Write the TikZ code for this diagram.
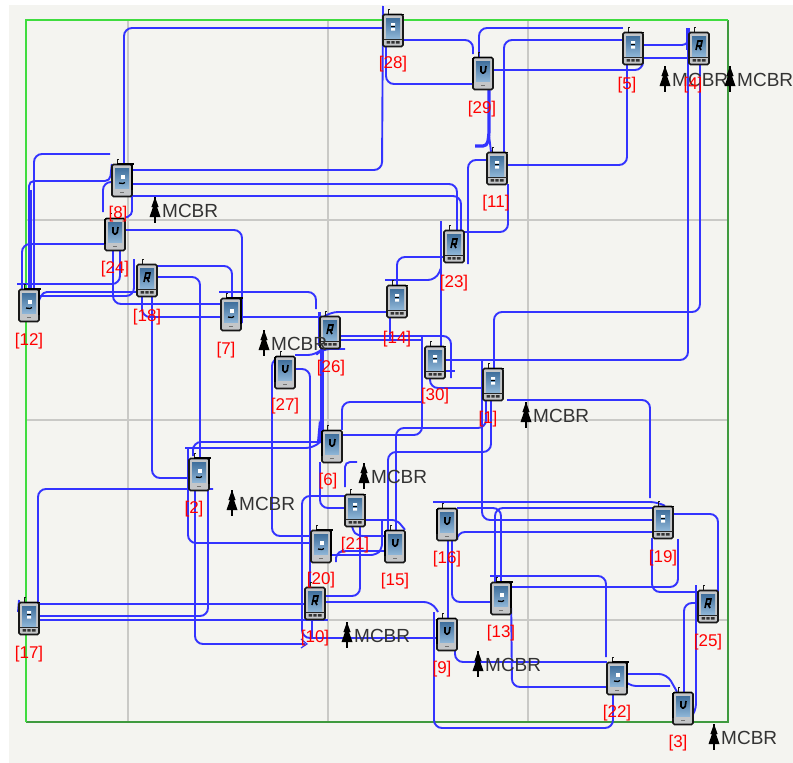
\documentclass[tikz,border=0pt]{standalone}
\usepackage{fontspec}
\setmainfont{Liberation Sans}
\definecolor{linkblue}{HTML}{3333FF}
\definecolor{canvasbg}{HTML}{F4F4F0}
\definecolor{gridgray}{HTML}{C9C9C6}
\definecolor{frameA}{HTML}{3FDC3F}
\definecolor{frameB}{HTML}{3F9A3F}
\definecolor{scrA}{HTML}{3F6F9C}
\definecolor{scrB}{HTML}{8DB4D6}
\definecolor{bodygray}{HTML}{C4C6C8}
\tikzset{
  x=1pt,y=-1pt,
  link/.style={draw=linkblue,line width=1.9pt,rounded corners=8pt},
  heavy/.style={link,line width=3.2pt},
  phonebox/.style={inner sep=0pt,minimum width=20pt,minimum height=32pt},
  idlabel/.style={text=red,font=\fontsize{17}{18}\selectfont,inner sep=0pt,yshift=-2pt},
  mcbrtext/.style={text=black!80,font=\fontsize{19}{20}\selectfont,inner sep=0pt,anchor=west},
  gridline/.style={draw=gridgray,line width=1.5pt},
  pics/phonebase/.style={code={
    \draw[black!90,line width=1pt] (-5,-16) -- (-5,-21) -- (-3,-21);
    \draw[black!90,fill=bodygray,line width=1.7pt,rounded corners=1.5pt] (-10,-15.5) rectangle (10,16.5);
    \shade[top color=scrA,bottom color=scrB] (-7,-12) rectangle (7,8);
  }},
  pics/phoneplain/.style={code={
    \pic {phonebase};
    \draw[black!55,line width=0.8pt] (-2,12.5) -- (2,12.5);
  }},
  pics/phonekeys/.style={code={
    \pic {phonebase};
    \fill[black!85] (-9.5,8.5) rectangle (9.5,9.8);
    \fill[black!80] (-6.5,11) rectangle (-2.8,13.5) (-1.7,11) rectangle (1.7,13.5) (2.8,11) rectangle (6.5,13.5);
  }},
  pics/glyphA/.style={code={
    \draw[black,line width=2.2pt] (-5,-16) -- (12,-16);
    \draw[black,line width=2pt] (10,-16) -- (10,10);
    \fill[white] (-1,-5) rectangle (3,-1);
    \draw[black,line width=1.3pt] (-3,3) -- (1,3.5) -- (3,2.5);
  }},
  pics/glyphU/.style={code={
    \draw[black,line width=2.4pt] (-10,-15.5) -- (-10,10);
    \draw[black,line width=1.7pt] (-10,-15.5) -- (9,-15.5);
    \draw[black,line width=1.7pt,rounded corners=1.5pt] (-2,-7) -- (-2,0) -- (2,0) -- (3,-7);
  }},
  pics/glyphR/.style={code={
    \draw[black,line width=1.6pt] (-3,2) -- (-1,-7) -- (3,-7) -- (2,-2) -- (-2,-2) (0,-2) -- (2,2);
  }},
  pics/glyphD/.style={code={
    \fill[white] (-2,-7) rectangle (2,-4.5) (-2,-2) rectangle (2,0.5);
    \fill[black] (-2,-4) rectangle (2,-3);
    \draw[black,line width=1.8pt] (-5,-15.5) -- (11,-15.5);
  }},
  pics/firtree/.style={code={
    \draw[black,line width=1.4pt] (0,-13) -- (0,13);
    \fill[black] (0,-13) -- (3.6,-3) -- (2,-3) -- (5.5,7) -- (-5.5,7) -- (-2,-3) -- (-3.6,-3) -- cycle;
  }},
}
\newcommand{\phonenode}[3]{\node[phonebox] (p#1) at (#2,#3) {};}
\newcommand{\iconA}[1]{\pic at (p#1) {phoneplain}; \pic at (p#1) {glyphA};}
\newcommand{\iconU}[1]{\pic at (p#1) {phoneplain}; \pic at (p#1) {glyphU};}
\newcommand{\iconR}[1]{\pic at (p#1) {phonekeys}; \pic at (p#1) {glyphR};}
\newcommand{\iconD}[1]{\pic at (p#1) {phonekeys}; \pic at (p#1) {glyphD};}
\newcommand{\mcbrsite}[3]{\pic at (#2,#3) {firtree}; \node[mcbrtext] (#1) at (#2+7,#3+1) {MCBR};}
\begin{document}
\begin{tikzpicture}
\useasboundingbox (0,0) rectangle (793,763);
\fill[white] (0,0) rectangle (793,763);
\fill[canvasbg] (9,5) rectangle (793,763);
% grid
\foreach \g in {128,328,528} \draw[gridline] (\g,20) -- (\g,722);
\foreach \g in {220,420,620} \draw[gridline] (26,\g) -- (728,\g);
% frame
\draw[frameB,line width=1.8pt] (728,20) -- (728,722) -- (26,722);
\draw[frameA,line width=1.8pt] (26,722) -- (26,20) -- (728,20);
% phone anchors
\phonenode{28}{393}{30}\phonenode{29}{483}{73}\phonenode{5}{633}{48}\phonenode{4}{699}{48}
\phonenode{11}{497}{168}\phonenode{23}{454}{246}\phonenode{14}{397}{301}\phonenode{30}{435}{362}
\phonenode{1}{493}{384}\phonenode{26}{330}{332}\phonenode{27}{285}{372}\phonenode{6}{332}{446}
\phonenode{8}{122}{180}\phonenode{24}{115}{234}\phonenode{18}{147}{280}\phonenode{12}{29}{305}
\phonenode{7}{231}{314}\phonenode{2}{199}{474}\phonenode{17}{29}{618}\phonenode{21}{355}{510}
\phonenode{20}{321}{546}\phonenode{15}{395}{546}\phonenode{10}{315}{603}\phonenode{9}{447}{634}
\phonenode{16}{447}{524}\phonenode{19}{663}{522}\phonenode{13}{501}{598}\phonenode{25}{708}{606}
\phonenode{22}{617}{678}\phonenode{3}{683}{708}
% free ends
\coordinate (f1) at (383,6);
\coordinate (f2) at (475,146);
\coordinate (f3) at (468,264);
\coordinate (f4) at (385,280);
\coordinate (f5) at (17,284);
\coordinate (f6) at (110,154);
\coordinate (f7) at (103,212);
\coordinate (f8) at (219,292);
\coordinate (f9) at (345,349);
\coordinate (f10) at (455,371);
\coordinate (f11) at (433,502);
\coordinate (f12) at (185,448);
\coordinate (f13) at (357,462);
\coordinate (f14) at (345,487);
\coordinate (f15) at (213,489);
\coordinate (f16) at (328,620);
\coordinate (f17) at (490,576);
\coordinate (f18) at (670,686);
\coordinate (f19) at (434,612);
\coordinate (f20) at (696,585);
\coordinate (f21) at (441,221);
\coordinate (f22) at (188,448);
% connectors: top right
\draw[link] (p28.west|-0,28) -- (124,28) -- (p8.north-|124,0);
\draw[link] (p8.east|-0,170) -- (382,170) -- (f1);
\draw[link] (386,46) -- (386,84) -- (p29.west|-0,84);
\draw[link] (p28.east|-0,40) -- (473,40) -- (473,54);
\draw[link] (p29.north-|479,0) -- (479,28) -- (p5.west|-0,28);
\draw[link] (p29.east|-0,70) -- (643,70) -- (p5.south-|643,0);
\draw[link] (p5.west|-0,40) -- (504,40) -- (p11.north-|504,0);
\draw[link,rounded corners=3pt] (p5.east|-0,45) -- (685,45) -- (p4.west|-0,41);
\draw[link] (p5.east|-0,58) -- (p4.west|-0,58);
\draw[link] (p30.east|-0,360) -- (688,360) -- (688,28);
\draw[heavy] (688,28) -- (688,50);
\draw[link] (p4.south-|700,0) -- (700,312) -- (494,312) -- (p1.north-|494,0);
\draw[link] (p5.south-|627,0) -- (627,165) -- (p11.east|-0,165);
\draw[link] (p11.west|-0,160) -- (468,160) -- (f3);
\draw[link] (p11.south-|508,0) -- (508,232) -- (p23.east|-0,232);
\draw[heavy,rounded corners=4pt] (p29.south-|489,0) -- (489,135) -- (487,146) -- (f2);
\draw[link] (489,135) -- (p11.north-|491,0);
% connectors: upper left
\draw[link] (p8.east|-0,184) -- (457,184) -- (p23.north-|457,0);
\draw[link] (p8.east|-0,196) -- (461,196) -- (p23.north-|461,0);
\draw[heavy,line width=2.8pt] (f21) -- (p30.north-|441,0);
\draw[link] (p23.west|-0,257) -- (397,257) -- (p14.north-|397,0);
\draw[link] (f4) -- (436,280) -- (441,268);
\draw[link] (p14.west|-0,312) -- (330,312) -- (p26.north-|325,0);
\draw[link] (p14.south-|390,0) -- (390,340);
\draw[link] (p26.east|-0,336) -- (451,336) -- (451,378);
\draw[heavy,line width=2.4pt] (p26.east|-0,340) -- (423,340);
\draw[link] (p6.east|-0,435) -- (422,435) -- (422,337);
\draw[link] (p27.east|-0,355) -- (316,355) -- (322,349) -- (f9);
\draw[link] (p27.east|-0,369) -- (310,369) -- (p10.north-|310,0);
\draw[link] (p27.west|-0,358) -- (272,358) -- (272,536) -- (p20.west|-0,536);
\draw[heavy] (322,348) -- (322,430);
\fill[linkblue] (319,420) -- (325,436) -- (324,444) -- (317,442) -- cycle;
\draw[link] (193,456) -- (193,442) -- (p6.west|-0,442);
\draw[link] (f12) -- (314,448) -- (322,440);
\draw[link] (p18.east|-0,277) -- (200,277) -- (p2.north-|200,0);
\draw[link] (p18.east|-0,266) -- (232,266) -- (p7.north-|232,0);
\draw[link] (p24.east|-0,230) -- (242,230) -- (242,323);
\draw[link] (f8) -- (316,292) -- (316,309);
\draw[link] (p24.south-|113,0) -- (113,304) -- (p7.west|-0,304);
\draw[link] (p24.south-|120,0) -- (120,284) -- (f5);
\draw[link] (p12.east|-0,296) -- (134,296) -- (134,259);
\draw[link,rounded corners=4pt] (p12.east|-0,300) -- (43,292) -- (p18.west|-0,292);
\draw[link] (p18.south-|152,0) -- (152,478) -- (p2.west|-0,478);
\draw[link] (p18.south-|142,0) -- (142,317) -- (p26.west|-0,317);
\draw[link] (f6) -- (34,154) -- (34,289);
\draw[link,rounded corners=5pt] (p8.west|-0,164) -- (110,181) -- (29,181) -- (29,289);
\draw[link] (31,190) -- (31,289);
\draw[link] (p8.west|-0,182) -- (103,182) -- (f7);
\draw[link,rounded corners=4pt] (p8.south-|132,0) -- (132,215) -- (p24.north-|125,0);
\draw[link] (p24.west|-0,244) -- (22,244) -- (p12.north-|22,0);
% centre
\draw[link] (p30.south-|430,0) -- (430,388) -- (p1.west|-0,388);
\draw[link] (p6.north-|342,0) -- (342,402) -- (423,402);
\draw[heavy,line width=2.2pt] (p30.east|-0,371) -- (f10);
\draw[link] (482,360) -- (482,520) -- (p19.west|-0,520);
\draw[link] (p1.south-|486,0) -- (486,428) -- (396,428) -- (p15.north-|396,0);
\draw[link] (p1.south-|491,0) -- (491,452) -- (388,452) -- (p15.north-|388,0);
\draw[link] (507,400) -- (650,400) -- (650,498);
% lower right
\draw[link] (f11) -- (658,502) -- (p19.north-|665,0);
\draw[link] (p19.west|-0,508) -- (495,508) -- (p13.north-|495,0);
\draw[link] (p16.east|-0,508) -- (501,508) -- (p13.north-|501,0);
\draw[link] (p16.south-|457,0) -- (457,532) -- (p19.west|-0,532);
\draw[link] (p19.east|-0,514) -- (718,514) -- (718,592);
\draw[link] (p19.south-|652,0) -- (652,592) -- (p25.west|-0,592);
\draw[link] (678,539) -- (678,587) -- (p13.east|-0,587);
\draw[link] (p25.west|-0,603) -- (684,603) -- (p3.north-|684,0);
\draw[link,rounded corners=4pt] (f20) -- (696,708) -- (p3.east|-0,714);
\draw[link] (f17) -- (606,576) -- (606,657);
\draw[link] (p13.west|-0,602) -- (452,602) -- (p16.south-|452,0);
\draw[link] (p16.south-|448,0) -- (p9.north-|448,0);
\draw[link] (p13.east|-0,608) -- (512,687) -- (p22.west|-0,687);
\draw[link] (p9.south-|455,0) -- (455,662) -- (p22.west|-0,662);
\draw[link] (f19) -- (434,728) -- (613,728) -- (p22.south-|613,0);
\draw[link] (p10.east|-0,602) -- (432,602) -- (438,612);
% lower left and centre
\draw[link] (p21.west|-0,496) -- (302,496) -- (302,638) -- (p9.west|-0,638);
\draw[link] (p10.east|-0,596) -- (360,596) -- (p21.south-|360,0);
\draw[link,rounded corners=5pt] (p21.south-|352,0) -- (352,530) -- (358,536) -- (p15.west|-0,536);
\draw[link,rounded corners=5pt] (p21.east|-0,520) -- (397,520) -- (p15.north-|405,0);
\draw[link,rounded corners=5pt] (p20.east|-0,555) -- (376,555) -- (382,549) -- (382,520);
\draw[link,rounded corners=4pt] (336,562) -- (336,554) -- (342,551) -- (p15.west|-0,551);
\draw[link] (f22) -- (188,543) -- (p20.west|-0,543);
\draw[link] (p6.south-|320,0) -- (320,508) -- (p21.west|-0,508);
\draw[link,rounded corners=5pt] (f13) -- (345,462) -- (f14);
\draw[link] (p2.south-|195,0) -- (195,644) -- (p10.west|-0,644);
\draw[linkblue,line width=1.2pt] (301,639) -- (307,644) -- (301,648);
\draw[link] (p2.south-|208,0) -- (208,616) -- (p17.east|-0,616);
\draw[link] (f15) -- (38,489) -- (38,602);
\draw[link] (p17.east|-0,604) -- (p10.west|-0,604);
\draw[link] (p17.east|-0,620) -- (f16);
\draw[link] (p10.south-|312,0) -- (312,638);
\draw[link] (p22.east|-0,674) -- (667,674) -- (p3.north-|677,0);
\draw[link,rounded corners=4pt] (p22.east|-0,683) -- (632,686) -- (f18);
\draw[heavy] (p26.west|-0,312) -- (p26.west|-0,346);
\draw[heavy,line width=2.4pt] (p7.east|-0,298) -- (p7.east|-0,325);
\draw[link] (19,600) -- (18,612);
% phones
\iconD{28}\iconU{29}\iconD{5}\iconR{4}\iconD{11}\iconR{23}\iconD{14}\iconD{30}\iconD{1}\iconR{26}
\iconU{27}\iconU{6}\iconA{8}\iconU{24}\iconR{18}\iconA{12}\iconA{7}\iconA{2}\iconD{17}\iconD{21}
\iconA{20}\iconU{15}\iconR{10}\iconU{9}\iconU{16}\iconD{19}\iconA{13}\iconR{25}\iconA{22}\iconU{3}
% MCBR sites
\mcbrsite{m1}{155}{210}
\mcbrsite{m2}{264}{343}
\mcbrsite{m3}{232}{503}
\mcbrsite{m4}{364}{476}
\mcbrsite{m5}{665}{79}
\mcbrsite{m6}{730}{79}
\mcbrsite{m7}{526}{415}
\mcbrsite{m8}{347}{635}
\mcbrsite{m9}{478}{664}
\mcbrsite{m10}{714}{737}
% labels
\node[idlabel] (l28) at (393,62) {[28]};
\node[idlabel] (l29) at (482,107) {[29]};
\node[idlabel] (l5) at (627,83) {[5]};
\node[idlabel] (l4) at (693,83) {[4]};
\node[idlabel] (l11) at (496,201) {[11]};
\node[idlabel] (l23) at (454,281) {[23]};
\node[idlabel] (l14) at (397,337) {[14]};
\node[idlabel] (l30) at (435,394) {[30]};
\node[idlabel] (l1) at (488,417) {[1]};
\node[idlabel] (l26) at (331,366) {[26]};
\node[idlabel] (l27) at (285,404) {[27]};
\node[idlabel] (l6) at (328,479) {[6]};
\node[idlabel] (l8) at (118,212) {[8]};
\node[idlabel] (l24) at (115,267) {[24]};
\node[idlabel] (l18) at (147,315) {[18]};
\node[idlabel] (l12) at (29,339) {[12]};
\node[idlabel] (l7) at (226,348) {[7]};
\node[idlabel] (l2) at (194,507) {[2]};
\node[idlabel] (l17) at (29,652) {[17]};
\node[idlabel] (l21) at (355,543) {[21]};
\node[idlabel] (l20) at (321,578) {[20]};
\node[idlabel] (l15) at (395,579) {[15]};
\node[idlabel] (l10) at (315,636) {[10]};
\node[idlabel] (l9) at (442,667) {[9]};
\node[idlabel] (l16) at (447,557) {[16]};
\node[idlabel] (l19) at (663,556) {[19]};
\node[idlabel] (l13) at (501,631) {[13]};
\node[idlabel] (l25) at (708,640) {[25]};
\node[idlabel] (l22) at (617,711) {[22]};
\node[idlabel] (l3) at (678,741) {[3]};
\end{tikzpicture}
\end{document}
